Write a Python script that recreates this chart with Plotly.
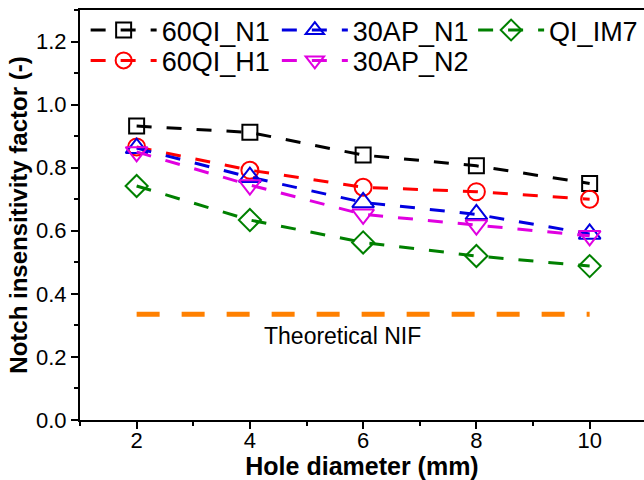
import plotly.graph_objects as go

hole_diameter = [2, 4, 6, 8, 10]
series_names = ["60QI_N1", "60QI_H1", "30AP_N1", "30AP_N2", "QI_IM7"]
qi60_n1 = [0.932, 0.912, 0.840, 0.806, 0.750]
qi60_h1 = [0.866, 0.792, 0.738, 0.724, 0.700]
ap30_n1 = [0.862, 0.770, 0.690, 0.652, 0.590]
ap30_n2 = [0.850, 0.745, 0.652, 0.618, 0.584]
qi_im7 = [0.742, 0.634, 0.563, 0.520, 0.488]
theory_x = [2, 10]
theory_nif = [0.335, 0.335]
theory_label = "Theoretical NIF"

FONT = "Liberation Sans, Arial, sans-serif"

# legend placement (paper coords): column x, row y
styles = [
    # name, values, color, symbol, size, legend, lx, ly
    ("60QI_N1", qi60_n1, "#000000", "square-open", 15, "legend", 0.01, 0.95),
    ("60QI_H1", qi60_h1, "#FF0000", "circle-open", 17, "legend2", 0.01, 0.876),
    ("30AP_N1", ap30_n1, "#0000E0", "triangle-up-open", 19, "legend3", 0.349, 0.95),
    ("30AP_N2", ap30_n2, "#E000E0", "triangle-down-open", 19, "legend4", 0.349, 0.876),
    ("QI_IM7", qi_im7, "#008000", "diamond-open", 17, "legend5", 0.697, 0.95),
]

fig = go.Figure()

fig.add_trace(go.Scatter(
    x=theory_x, y=theory_nif, mode="lines",
    line=dict(color="#FF8000", width=5, dash="23px,22px"),
    showlegend=False, hoverinfo="skip",
))

legends = {}
for name, vals, color, symbol, size, leg, lx, ly in styles:
    fig.add_trace(go.Scatter(
        x=hole_diameter, y=vals, name=name, mode="lines+markers",
        line=dict(color=color, width=3, dash="15px,15px"),
        marker=dict(symbol=symbol, size=size, color=color,
                    line=dict(color=color, width=2)),
        legend=leg,
    ))
    legends[leg] = dict(
        x=lx, y=ly, xanchor="left", yanchor="middle",
        bgcolor="rgba(0,0,0,0)", borderwidth=0,
        font=dict(family=FONT, size=27, color="#000000"), itemwidth=66,
    )

fig.add_annotation(
    x=5.63, y=0.266, xref="x", yref="y", text=theory_label,
    showarrow=False, font=dict(family=FONT, size=23, color="#000000"),
)

fig.update_layout(
    width=644, height=480,
    margin=dict(l=80, r=0, t=10, b=60),
    paper_bgcolor="white", plot_bgcolor="white",
    font=dict(family=FONT, size=22, color="#000000"),
    **legends,
    xaxis=dict(
        range=[1, 10.96], tick0=0, dtick=2,
        ticks="outside", ticklen=7, tickwidth=2, tickcolor="black",
        showline=True, linecolor="black", linewidth=2, mirror=True,
        showgrid=False, zeroline=False,
        minor=dict(dtick=1, tick0=0, ticks="outside", ticklen=4, tickwidth=2, tickcolor="black"),
        tickfont=dict(family=FONT, size=22), ticklabelstandoff=-7,
        title=dict(text="<b>Hole diameter (mm)</b>", font=dict(family=FONT, size=25), standoff=2),
    ),
    yaxis=dict(
        range=[0, 1.3], tick0=0, dtick=0.2, tickformat=".1f",
        ticks="outside", ticklen=7, tickwidth=2, tickcolor="black",
        showline=True, linecolor="black", linewidth=2, mirror=False,
        showgrid=False, zeroline=False,
        minor=dict(dtick=0.1, tick0=0, ticks="outside", ticklen=4, tickwidth=2, tickcolor="black"),
        tickfont=dict(family=FONT, size=22),
        title=dict(text="<b>Notch insensitivity factor (-)</b>", font=dict(family=FONT, size=24), standoff=2),
    ),
)

fig.write_html(
    "out.html",
    config={"displayModeBar": False},
    post_script="document.body.style.margin='0';document.body.style.overflow='hidden';",
)
